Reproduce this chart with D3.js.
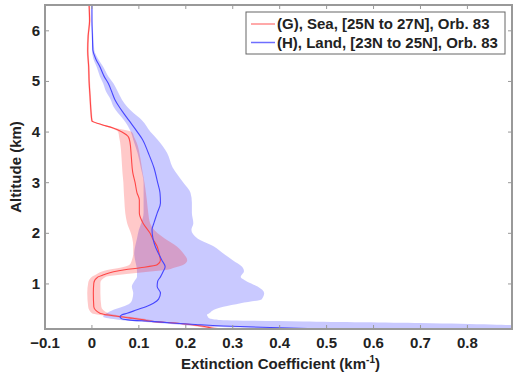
<!DOCTYPE html>
<html><head><meta charset="utf-8">
<script src="https://cdn.jsdelivr.net/npm/d3@7"></script>
<style>
html,body{margin:0;padding:0;background:#fff;}
text{font-family:"Liberation Sans",Arial,sans-serif;font-weight:bold;}
</style></head>
<body><svg id="c" width="513" height="376"></svg>
<script>
// ---- data ----
const xTicks = [-0.1,0,0.1,0.2,0.3,0.4,0.5,0.6,0.7,0.8];
const yTicks = [1,2,3,4,5,6];
const seriesNames = ["(G), Sea, [25N to 27N], Orb. 83","(H), Land, [23N to 25N], Orb. 83"];

const seaAlt  = [6.5,6.2,5.9,5.6,5.3,5.0,4.7,4.4,4.22,4.15,4.08,4.0,3.9,3.8,3.5,3.2,3.0,2.8,2.66,2.4,2.2,2.0,1.9,1.74,1.6,1.47,1.38,1.32,1.28,1.24,1.18,1.14,1.02,0.82,0.55,0.42,0.39,0.33,0.29,0.26,0.22,0.16,0.12,0.08];
const seaMean = [-0.006,-0.005,-0.008,-0.009,-0.007,-0.006,-0.004,-0.002,0.0,0.02,0.045,0.064,0.078,0.081,0.084,0.087,0.092,0.096,0.101,0.101,0.109,0.124,0.129,0.139,0.143,0.146,0.139,0.103,0.07,0.046,0.025,0.013,0.004,0.003,0.004,0.017,0.031,0.08,0.11,0.127,0.188,0.24,0.26,0.3];
const seaLo   = [-0.008,-0.007,-0.010,-0.011,-0.009,-0.008,-0.006,-0.004,-0.002,0.016,0.04,0.056,0.058,0.060,0.063,0.065,0.067,0.068,0.069,0.071,0.075,0.083,0.086,0.088,0.088,0.085,0.080,0.06,0.035,0.02,0.008,0.0,-0.008,-0.01,-0.008,0.0,0.015,0.065,0.095,0.112,0.172,0.225,0.245,0.285];
const seaHi   = [-0.004,-0.003,-0.006,-0.007,-0.005,-0.004,-0.002,0.0,0.002,0.024,0.05,0.085,0.090,0.095,0.103,0.108,0.112,0.115,0.117,0.120,0.124,0.14,0.155,0.181,0.195,0.203,0.195,0.175,0.16,0.12,0.06,0.03,0.018,0.018,0.02,0.035,0.05,0.097,0.125,0.142,0.204,0.255,0.275,0.315];

const landAlt  = [6.5,6.2,5.9,5.62,5.45,5.29,5.1,4.96,4.8,4.64,4.5,4.38,4.24,4.0,3.85,3.59,3.3,3.0,2.8,2.6,2.4,2.2,2.07,1.9,1.74,1.6,1.47,1.34,1.25,1.14,1.05,0.95,0.82,0.7,0.62,0.55,0.49,0.42,0.39,0.35,0.32,0.29,0.26,0.23,0.2,0.17,0.14,0.11,0.08];
const landMean = [0.0,0.0,0.001,0.002,0.008,0.017,0.026,0.035,0.042,0.049,0.058,0.067,0.078,0.097,0.108,0.12,0.132,0.14,0.145,0.146,0.139,0.132,0.128,0.13,0.135,0.142,0.149,0.156,0.152,0.146,0.14,0.139,0.146,0.142,0.131,0.115,0.096,0.075,0.064,0.06,0.062,0.077,0.127,0.17,0.22,0.28,0.38,0.5,0.6];
const landLo   = [0.0,0.0,0.0,0.0,0.003,0.01,0.017,0.024,0.03,0.04,0.046,0.055,0.068,0.083,0.088,0.097,0.104,0.11,0.11,0.11,0.11,0.105,0.1,0.096,0.092,0.09,0.092,0.095,0.096,0.096,0.09,0.085,0.088,0.086,0.081,0.065,0.046,0.031,0.026,0.024,0.035,0.06,0.1,0.14,0.18,0.22,0.3,0.45,0.6];
const landHi   = [0.0,0.001,0.003,0.005,0.013,0.024,0.035,0.046,0.055,0.064,0.075,0.088,0.106,0.125,0.14,0.16,0.172,0.195,0.21,0.213,0.213,0.216,0.212,0.225,0.26,0.28,0.30,0.32,0.324,0.317,0.33,0.353,0.367,0.362,0.317,0.28,0.26,0.25,0.245,0.247,0.25,0.27,0.45,0.7,0.85,0.93,1.0,1.0,1.0];

// ---- layout ----
const L=45, R=512, T=5, B=329;
const svg = d3.select("#c");
const x = d3.scaleLinear().domain([-0.1,0.895]).range([L,R]);
const y = d3.scaleLinear().domain([0.11,6.51]).range([B,T]);

svg.append("defs").append("clipPath").attr("id","clip")
  .append("rect").attr("x",L).attr("y",T).attr("width",R-L).attr("height",B-T);
const g = svg.append("g").attr("clip-path","url(#clip)");

function rows(alt,m,lo,hi){return alt.map((a,i)=>({a,m:m[i],lo:lo[i],hi:hi[i]}));}
const sea = rows(seaAlt,seaMean,seaLo,seaHi);
const land = rows(landAlt,landMean,landLo,landHi);

const area = d3.area().y(d=>y(d.a)).x0(d=>x(d.lo)).x1(d=>x(d.hi)).curve(d3.curveMonotoneY);
const line = d3.line().y(d=>y(d.a)).x(d=>x(d.m)).curve(d3.curveMonotoneY);

g.append("path").datum(land).attr("d",area).attr("fill","rgb(0,0,255)").attr("fill-opacity",0.21);
g.append("path").datum(sea).attr("d",area).attr("fill","rgb(255,0,0)").attr("fill-opacity",0.21);
g.append("path").datum(sea).attr("d",line).attr("fill","none").attr("stroke","rgb(255,70,70)").attr("stroke-width",1.1);
g.append("path").datum(land).attr("d",line).attr("fill","none").attr("stroke","rgb(70,70,255)").attr("stroke-width",1.1);

// ---- axes (box with inward ticks) ----
const axCol="#999";
const ax = svg.append("g");
ax.append("rect").attr("x",L).attr("y",T).attr("width",R-L).attr("height",B-T)
  .attr("fill","none").attr("stroke",axCol).attr("stroke-width",2);
const tl=4, fs=15;
xTicks.forEach(v=>{
  const px=x(v);
  ax.append("line").attr("x1",px).attr("x2",px).attr("y1",B).attr("y2",B-tl).attr("stroke",axCol);
  ax.append("line").attr("x1",px).attr("x2",px).attr("y1",T).attr("y2",T+tl).attr("stroke",axCol);
  ax.append("text").attr("x",px).attr("y",B+19).attr("text-anchor","middle").attr("font-size",fs).attr("fill","#222").text(d3.format("")(v));
});
yTicks.forEach(v=>{
  const py=y(v);
  ax.append("line").attr("x1",L).attr("x2",L+tl).attr("y1",py).attr("y2",py).attr("stroke",axCol);
  ax.append("line").attr("x1",R).attr("x2",R-tl).attr("y1",py).attr("y2",py).attr("stroke",axCol);
  ax.append("text").attr("x",L-5).attr("y",py+5).attr("text-anchor","end").attr("font-size",fs).attr("fill","#222").text(v);
});

// axis titles
svg.append("text").attr("transform",`translate(21,${(T+B)/2}) rotate(-90)`).attr("text-anchor","middle")
  .attr("font-size",fs).attr("fill","#222").text("Altitude (km)");
const xt = svg.append("text").attr("x",(L+R)/2+2).attr("y",369).attr("text-anchor","middle").attr("font-size",fs).attr("fill","#222");
xt.append("tspan").text("Extinction Coefficient (km");
xt.append("tspan").attr("dy",-6).attr("font-size",10).text("-1");
xt.append("tspan").attr("dy",6).text(")");

// legend
const lg = svg.append("g");
lg.append("rect").attr("x",246).attr("y",12).attr("width",259).attr("height",42).attr("fill","#fff").attr("stroke","#666").attr("stroke-width",1);
const lcols=["rgb(255,140,140)","rgb(110,110,255)"];
seriesNames.forEach((s,i)=>{
  const yy=24+i*18.5;
  lg.append("line").attr("x1",251).attr("x2",275).attr("y1",yy).attr("y2",yy).attr("stroke",lcols[i]).attr("stroke-width",1.5);
  lg.append("text").attr("x",277).attr("y",yy+5).attr("font-size",fs).attr("fill","#222").text(s);
});
</script></body></html>
